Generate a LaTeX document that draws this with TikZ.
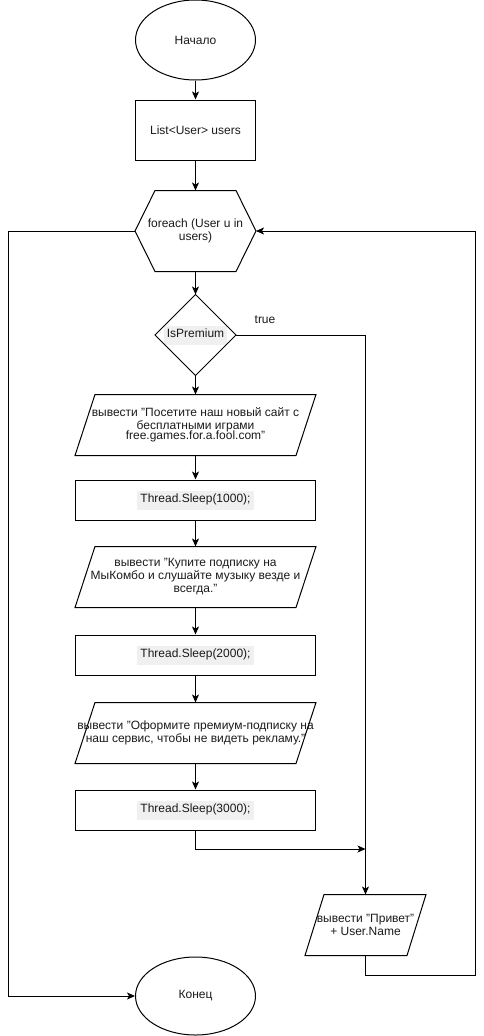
\documentclass[tikz,border=0pt]{standalone}
\usepackage{fontspec}
\setmainfont{Liberation Sans}
\usetikzlibrary{shapes.geometric,arrows.meta,calc}
\definecolor{hlgray}{HTML}{F0F0F0}
\definecolor{txt}{HTML}{1A1A1A}
\newcommand{\strq}{\char34\relax}
\begin{document}
\begin{tikzpicture}[x=1pt,y=-1pt,line width=1pt,
  every node/.style={font=\fontsize{12}{13}\selectfont,text=txt,inner sep=0pt,align=center},
  term/.style={ellipse,draw,minimum width=120pt,minimum height=#1},
  term/.default=80pt,
  procbox/.style={rectangle,draw,minimum width=#1},
  slot/.style={rectangle,minimum width=#1},
  arr/.style={-{Stealth[length=8pt,width=7pt,inset=2pt]}},
  hl/.style={fill=hlgray,inner sep=1pt}
]
\useasboundingbox (0,0) rectangle (484,1036);

\node[term] (start) at (195.5,40) {Начало};
\node[procbox=120pt,minimum height=60pt] (list) at (195.5,130) {List<User> users};
\node[slot=120pt,minimum height=80pt] (loop) at (195.5,231) {foreach (User u in\\users)};
\node[slot=80pt,minimum height=80pt] (cond) at (195.5,335) {\colorbox{hlgray}{\strut IsPremium}};
\node (truelbl) at (265,320) {true};
\node[slot=240pt,minimum height=60pt] (p1) at (195.5,425)
  {вывести \strq Посетите наш новый сайт с\\бесплатными играми\\[-3pt]free.games.for.a.fool.com\strq};
\node[procbox=240pt,minimum height=40pt] (s1) at (195.5,500) {\colorbox{hlgray}{\strut Thread.Sleep(1000);}};
\node[slot=240pt,minimum height=60pt] (p2) at (195.5,577)
  {вывести \strq Купите подписку на\\МыКомбо и слушайте музыку везде и\\всегда.\strq};
\node[procbox=240pt,minimum height=40pt] (s2) at (195.5,655) {\colorbox{hlgray}{\strut Thread.Sleep(2000);}};
\node[slot=240pt,minimum height=60pt] (p3) at (195.5,733)
  {вывести \strq Оформите премиум-подписку на\\наш сервис, чтобы не видеть рекламу.\strq};
\node[procbox=240pt,minimum height=40pt] (s3) at (195.5,810) {\colorbox{hlgray}{\strut Thread.Sleep(3000);}};
\node[slot=120pt,minimum height=60pt] (hello) at (365.5,925) {вывести \strq Привет\strq\\+ User.Name};
\node[term=78pt] (end) at (195.5,996) {Конец};

% shapes
\draw (loop.west) -- ([xshift=20]loop.north west) -- ([xshift=-20]loop.north east) -- (loop.east)
  -- ([xshift=-20]loop.south east) -- ([xshift=20]loop.south west) -- cycle;
\draw (cond.north) -- (cond.east) -- (cond.south) -- (cond.west) -- cycle;
\foreach \n/\s in {p1/20,p2/20,p3/20,hello/19}
  \draw ([xshift=\s]\n.north west) -- (\n.north east) -- ([xshift=-\s]\n.south east) -- (\n.south west) -- cycle;

% junctions
\coordinate (j) at (365.5,849);
\coordinate (rb) at (475,975);
\coordinate (lft) at (8,231);

% connectors
\draw[arr] (start) -- (list);
\draw[arr] (list) -- (loop);
\draw[arr] (loop) -- (cond);
\draw[arr] (cond) -- (p1);
\draw[arr] (p1) -- (s1);
\draw[arr] (s1) -- (p2);
\draw[arr] (p2) -- (s2);
\draw[arr] (s2) -- (p3);
\draw[arr] (p3) -- (s3);
\draw[arr] (s3.south) |- (j);
\draw[arr] (cond.east) -| (hello.north);
\draw[arr] (hello.south) |- (rb) |- (loop.east);
\draw[arr] (loop.west) -- (lft) |- (end.west);
\end{tikzpicture}
\end{document}
